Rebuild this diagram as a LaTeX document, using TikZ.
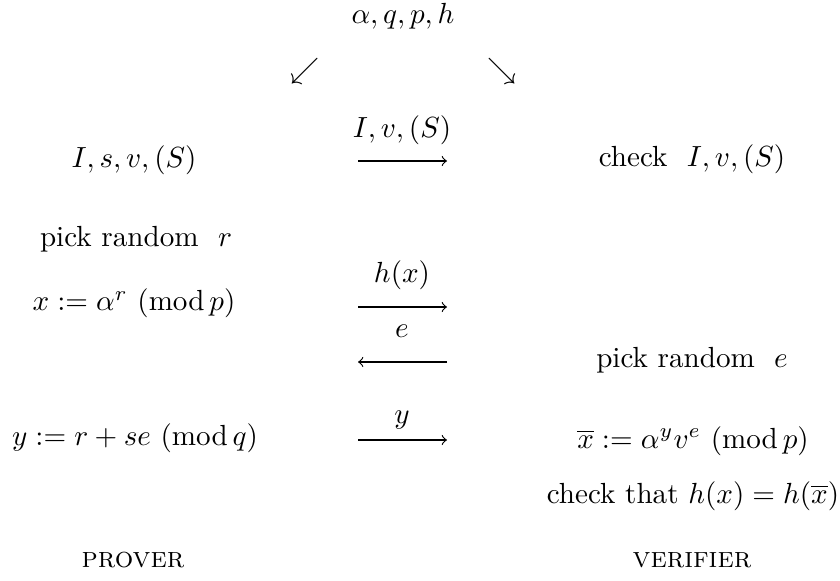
\documentclass[tikz,border=0pt]{standalone}
\begin{document}
\begin{tikzpicture}[x=0.3436pt,y=-0.3436pt,
  txt/.style={anchor=base,inner sep=0pt,outer sep=0pt},
  sym/.style={anchor=center,inner sep=0pt,outer sep=0pt},
  msg/.style={->,line width=0.4pt}]
\useasboundingbox (0,0) rectangle (840,581);
% public parameters
\node[txt] (pub) at (403,24) {$\alpha, q, p, h$};
\node[sym] (sw) at (305,71) {$\swarrow$};
\node[sym] (se) at (502,71) {$\searrow$};
% prover column
\node[txt] (p1) at (134,168) {$I, s, v, (S)$};
\node[txt] (p2) at (136,247) {pick random \ $r$};
\node[txt] (p3) at (134,311) {$x := \alpha^r\ (\mathrm{mod}\, p)$};
\node[txt] (p4) at (135,445) {$y := r + se\ (\mathrm{mod}\, q)$};
\node[txt] (pn) at (133,567) {\textsc{prover}};
% verifier column
\node[txt] (v1) at (692,167) {check \ $I, v, (S)$};
\node[txt] (v2) at (692,368) {pick random \ $e$};
\node[txt] (v3) at (693,448) {$\overline{x} := \alpha^y v^e\ (\mathrm{mod}\, p)$};
\node[txt] (v4) at (693,503) {check that $h(x) = h(\overline{x})$};
\node[txt] (vn) at (692,567) {\textsc{verifier}};
% messages
\coordinate (a1s) at (358,161); \coordinate (a1e) at (447,161);
\coordinate (a2s) at (358,307); \coordinate (a2e) at (447,307);
\coordinate (a3s) at (447,362); \coordinate (a3e) at (358,362);
\coordinate (a4s) at (358,440); \coordinate (a4e) at (447,440);
\node[txt] (l1) at (402,138) {$I, v, (S)$};
\node[txt] (l2) at (402,283) {$h(x)$};
\node[txt] (l3) at (402,338) {$e$};
\node[txt] (l4) at (402,423) {$y$};
\draw[msg] (a1s) -- (a1e);
\draw[msg] (a2s) -- (a2e);
\draw[msg] (a3s) -- (a3e);
\draw[msg] (a4s) -- (a4e);
\end{tikzpicture}
\end{document}
